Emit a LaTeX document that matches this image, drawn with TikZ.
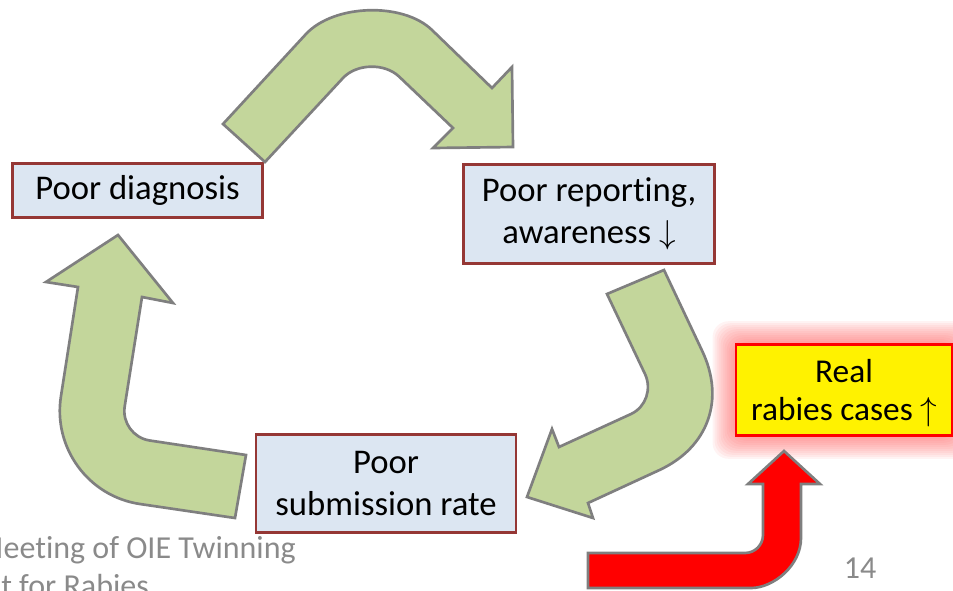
\documentclass[tikz,border=0pt]{standalone}
\usepackage{fontspec}
\setmainfont{Carlito}[Ligatures=NoCommon]
\usetikzlibrary{backgrounds}
\definecolor{boxblue}{HTML}{DCE6F2}
\definecolor{boxline}{HTML}{953735}
\definecolor{leafgreen}{HTML}{C3D69B}
\definecolor{arrowgray}{HTML}{7F7F7F}
\definecolor{footgray}{HTML}{8A8A8A}
\begin{document}
\begin{tikzpicture}[x=0.75pt, y=-0.75pt,
  cause/.style={draw=boxline, fill=boxblue, line width=2.2pt, align=center, inner sep=0pt, font=\fontsize{26}{31.5}\selectfont},
  blockarrow/.style={draw=arrowgray, fill=leafgreen, line width=2pt},
  foot/.style={text=footgray, font=\fontsize{24}{29}\selectfont, inner sep=0pt}]
\useasboundingbox (0,0) rectangle (953,590);
\clip (0,0) rectangle (953,590);
% the four boxes
\node[cause, minimum width=188pt, minimum height=41pt] (diag) at (137.5,190.5) {Poor diagnosis};
\node[cause, minimum width=188pt, minimum height=74pt] (report) at (589,214) {Poor reporting,\\awareness $\downarrow$};
\node[cause, minimum width=195pt, minimum height=74pt] (submit) at (386,483.5) {Poor\\submission rate};
\node[cause, draw=red, fill=yellow, minimum width=162pt, minimum height=68pt, text height=45pt, text depth=0pt, font=\fontsize{25}{28}\selectfont] (real) at (844,390) {Real\\rabies cases $\uparrow$};
\begin{scope}[on background layer]
\foreach \g in {2,4,...,22}{\fill[red!65, opacity=0.07, rounded corners=12pt] ([shift={(-\g,\g)}]real.south west) rectangle ([shift={(\g,-\g)}]real.north east);}
\end{scope}
% green cycle
\draw[blockarrow] (223,124) -- (306,34) .. controls (334,4) and (403,2) .. (432,30) -- (492,88) -- (512,67) -- (513,147) -- (433,148) -- (453,128) -- (399,76.5) .. controls (384.5,62.8) and (356.5,63.5) .. (343,78) -- (265,162) -- cycle;
\draw[blockarrow] (664,270) -- (702,350.5) .. controls (725.4,399.4) and (708.4,447.2) .. (659.5,470) -- (588,503) -- (593,518) -- (527,497) -- (552,429) -- (559,447) -- (631,414) .. controls (646,407) and (652,389) .. (645,374) -- (607,294) -- cycle;
\draw[blockarrow] (173,303) -- (118,235) -- (46,282) -- (78,287) -- (61,396) .. controls (52.7,447.6) and (88.3,496.4) .. (140,504) -- (235,518) -- (246,455) -- (149.7,440.5) .. controls (133.4,438) and (122.1,422.7) .. (124.7,406.4) -- (142,297) -- cycle;
% red arrow
\draw[blockarrow, fill=red] (588,553) -- (745,553) .. controls (754.9,553) and (763,544.9) .. (763,535) -- (763,484) -- (748,484) -- (784,451) -- (820,484) -- (801,484) -- (801,538) .. controls (801,565.5) and (773.5,588) .. (751,588) -- (588,588) -- cycle;
% footer
\node[foot, anchor=base east] (meet) at (296,558) {Meeting of OIE Twinning};
\node[foot, anchor=base west] (rab) at (1,596) {t for Rabies};
\node[foot, anchor=base] (page) at (860,578) {14};
\end{tikzpicture}
\end{document}
